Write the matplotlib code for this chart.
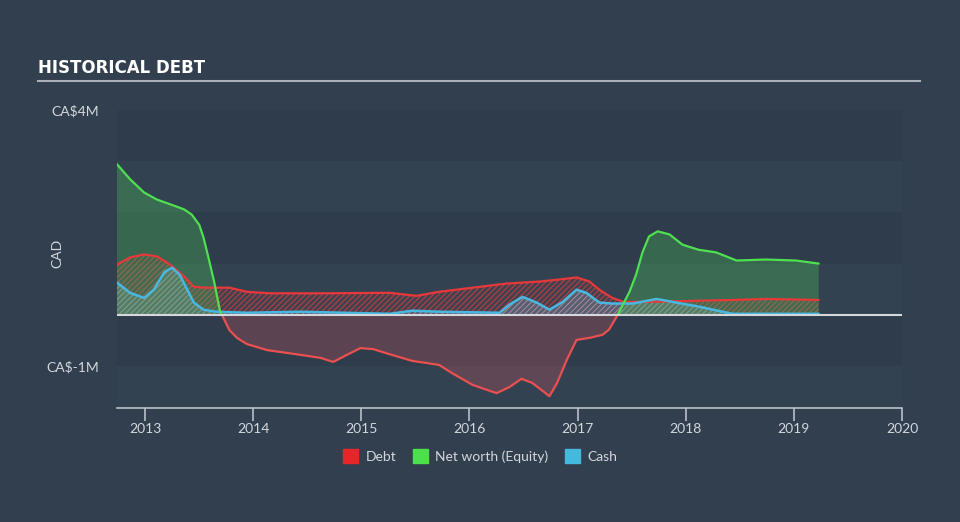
import matplotlib
matplotlib.use("Agg")
import matplotlib.pyplot as plt
from matplotlib.patches import Patch
import numpy as np

# ---- data (values in CA$ millions, x in decimal years) ----
debt_x = [2012.74, 2012.86, 2012.99, 2013.11, 2013.23, 2013.36, 2013.45, 2013.54, 2013.78, 2013.94,
          2014.15, 2014.7, 2015.26, 2015.51, 2015.72, 2016.03, 2016.34, 2016.65, 2016.83, 2016.99,
          2017.11, 2017.20, 2017.32, 2017.43, 2017.82, 2018.43, 2018.74, 2019.23]
debt_y = [0.98, 1.12, 1.18, 1.14, 0.98, 0.75, 0.55, 0.53, 0.53, 0.45,
          0.42, 0.42, 0.43, 0.37, 0.45, 0.53, 0.61, 0.65, 0.69, 0.73,
          0.65, 0.49, 0.33, 0.25, 0.26, 0.29, 0.31, 0.29]

equity_x = [2012.74, 2012.86, 2012.99, 2013.11, 2013.23, 2013.36, 2013.43, 2013.50, 2013.54, 2013.59,
            2013.64, 2013.69, 2013.71, 2013.78, 2013.85, 2013.94, 2014.13, 2014.43, 2014.62, 2014.74,
            2014.85, 2014.99, 2015.11, 2015.23, 2015.47, 2015.63, 2015.72, 2015.84, 2016.03, 2016.25,
            2016.37, 2016.48, 2016.58, 2016.74, 2016.81, 2016.90, 2016.99, 2017.11, 2017.23, 2017.29,
            2017.36, 2017.37, 2017.48, 2017.54, 2017.60, 2017.66, 2017.74, 2017.85, 2017.97, 2018.12,
            2018.28, 2018.47, 2018.74, 2019.02, 2019.23]
equity_y = [2.94, 2.65, 2.39, 2.25, 2.16, 2.06, 1.96, 1.76, 1.51, 1.08,
            0.63, 0.10, 0.0, -0.30, -0.45, -0.57, -0.69, -0.78, -0.84, -0.92,
            -0.80, -0.65, -0.67, -0.75, -0.90, -0.95, -0.98, -1.14, -1.37, -1.53,
            -1.41, -1.25, -1.33, -1.59, -1.33, -0.88, -0.49, -0.45, -0.39, -0.29,
            -0.04, 0.0, 0.45, 0.78, 1.22, 1.53, 1.63, 1.57, 1.37, 1.27,
            1.22, 1.06, 1.08, 1.06, 1.00]

cash_x = [2012.74, 2012.86, 2012.99, 2013.08, 2013.18, 2013.25, 2013.32, 2013.39, 2013.45, 2013.54,
          2013.66, 2013.94, 2014.43, 2015.26, 2015.47, 2015.72, 2016.28, 2016.37, 2016.49, 2016.62,
          2016.74, 2016.86, 2016.99, 2017.08, 2017.20, 2017.32, 2017.51, 2017.73, 2017.91, 2018.12,
          2018.43, 2019.23]
cash_y = [0.63, 0.43, 0.33, 0.49, 0.84, 0.92, 0.78, 0.49, 0.24, 0.10,
          0.06, 0.04, 0.06, 0.02, 0.08, 0.06, 0.04, 0.20, 0.35, 0.24,
          0.10, 0.25, 0.49, 0.43, 0.24, 0.22, 0.22, 0.31, 0.24, 0.16,
          0.02, 0.02]

year_ticks = [2013, 2014, 2015, 2016, 2017, 2018, 2019, 2020]
ytick_vals = [4, -1]
ytick_labels = ["CA$4M", "CA$-1M"]
legend_labels = ["Debt", "Net worth (Equity)", "Cash"]

# ---- styling ----
BG = "#323f4f"
TXT = "#d3d7dc"
RED = "#e8383a"
GREEN = "#4fe04f"
BLUE = "#48b8e0"

plt.rcParams['font.family'] = ['Lato', 'DejaVu Sans']
plt.rcParams['hatch.linewidth'] = 0.7

fig = plt.figure(figsize=(9.6, 5.22), dpi=100, facecolor=BG)
ax = fig.add_axes([117/960, (522-408)/522, 785/960, (408-110)/522])
ax.set_facecolor("none")
ax.set_xlim(2012.74, 2020.0)
ax.set_ylim(-1.82, 4.0)

# bands
edges = [-1.82, -1, 0, 1, 2, 3, 4]
for i in range(len(edges)-1):
    c = "#2f3c4b" if i % 2 == 1 else "#334251"
    ax.axhspan(edges[i], edges[i+1], color=c, zorder=0, lw=0)

dx = np.array(debt_x); dy = np.array(debt_y)
ex = np.array(equity_x); ey = np.array(equity_y)
cx = np.array(cash_x); cy = np.array(cash_y)

# debt hatched fill
ax.fill_between(dx, 0, dy, facecolor=(0.91, 0.22, 0.23, 0.10), edgecolor=(0.91, 0.25, 0.26, 0.75),
                hatch="//////", lw=0, zorder=2)
# cash fill
ax.fill_between(cx, 0, cy, facecolor=(0.5, 0.7, 0.8, 0.28), edgecolor=(0.6, 0.72, 0.8, 0.5),
                hatch="//////", lw=0, zorder=3)

# equity fills
ax.fill_between(ex, 0, ey, where=ey >= 0, interpolate=True, color=(0.29, 0.75, 0.35, 0.33), lw=0, zorder=4)
ax.fill_between(ex, 0, ey, where=ey <= 0, interpolate=True, color=(0.9, 0.35, 0.4, 0.25), lw=0, zorder=4)

# lines
kw = dict(solid_joinstyle="round", solid_capstyle="round")
ax.plot(dx, dy, color=RED, lw=1.6, zorder=5, **kw)
ax.plot(cx, cy, color=BLUE, lw=1.8, zorder=6, **kw)
i0 = equity_x.index(2013.71); i1 = equity_x.index(2017.37)
ax.plot(ex[:i0+1], ey[:i0+1], color=GREEN, lw=1.6, zorder=7, **kw)
ax.plot(ex[i0:i1+1], ey[i0:i1+1], color="#ea5050", lw=1.6, zorder=7, **kw)
ax.plot(ex[i1:], ey[i1:], color=GREEN, lw=1.6, zorder=7, **kw)

ax.axhline(0, color="#d4d8dc", lw=1.5, zorder=8)

for s in ["top", "right", "left"]:
    ax.spines[s].set_visible(False)
ax.spines["bottom"].set_color("#b9c0c8")
ax.spines["bottom"].set_linewidth(1.2)
ax.set_xticks(year_ticks)
ax.set_xticklabels([str(y) for y in year_ticks])
ax.tick_params(axis="x", colors="#b9c0c8", labelcolor=TXT, length=9, width=1.2, labelsize=10, pad=2)
ax.set_yticks(ytick_vals)
ax.set_yticklabels(ytick_labels)
ax.tick_params(axis="y", length=0, labelcolor=TXT, labelsize=10, pad=13)
ax.set_ylabel("CAD", color=TXT, fontsize=10)
ax.yaxis.set_label_coords(-0.068, 0.52)

# title
fig.text(38/960, 1-68/522, "HISTORICAL DEBT", color="white", fontsize=12, fontweight="bold",
         family=["Liberation Sans Narrow", "DejaVu Sans"], va="center", ha="left")
fig.add_artist(plt.Line2D([38/960, 920/960], [1-81/522, 1-81/522], color="#a9b0b8", lw=1.5))

# legend
handles = [Patch(color=c, label=l) for c, l in zip(["#e8262a", "#4ce04c", "#45b9dd"], legend_labels)]
leg = fig.legend(handles=handles, loc="center", bbox_to_anchor=(480/960, 1-456/522), ncol=3, frameon=False,
                 fontsize=10, handlelength=1.1, handleheight=1.1, columnspacing=1.2, handletextpad=0.5)
for t in leg.get_texts():
    t.set_color(TXT)

fig.savefig("out.png", dpi=100, facecolor=BG)
